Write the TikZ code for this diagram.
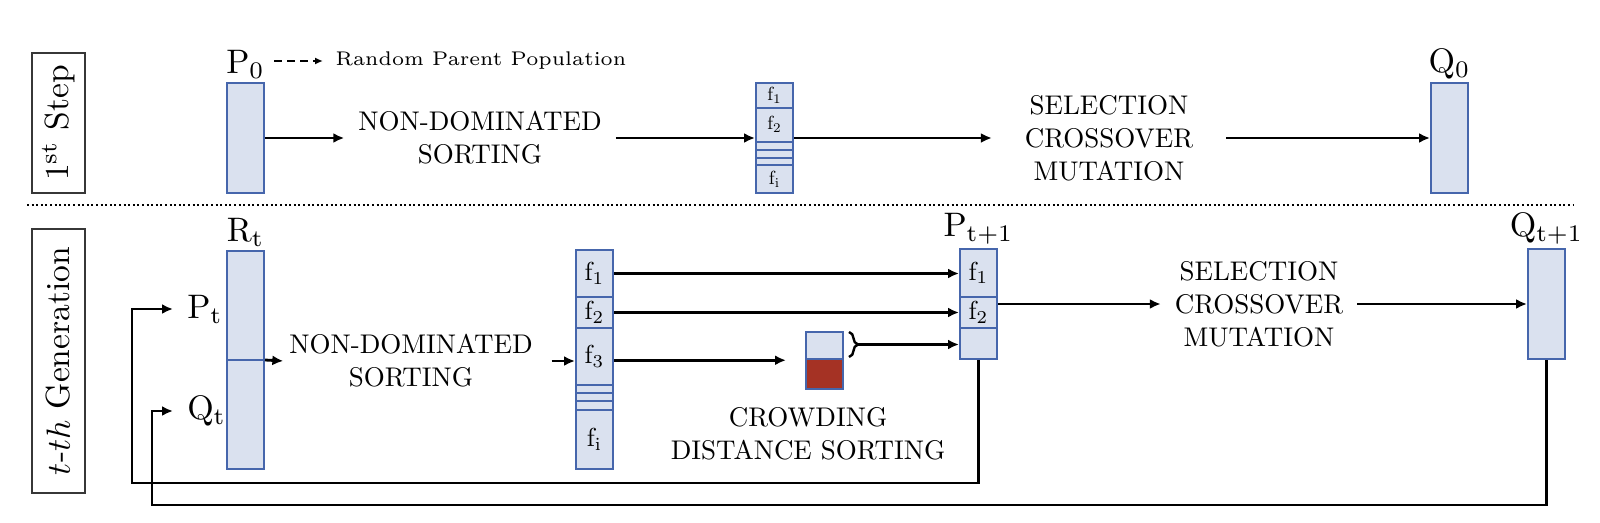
\documentclass[tikz,border=0pt]{standalone}
\usepackage{graphicx}
\usetikzlibrary{arrows.meta,decorations.pathreplacing,calc}

\definecolor{barblue}{RGB}{70,102,172}
\definecolor{barfill}{RGB}{218,225,239}
\definecolor{cdred}{RGB}{165,50,36}
\definecolor{sidegray}{RGB}{55,55,55}

\newcommand{\fcell}[2]{\scalebox{#1}{$\mathrm{f}_{\mathrm{#2}}$}}

\tikzset{
    bar/.style={draw=barblue, fill=barfill, line width=2pt, minimum width=37pt, inner sep=0pt},
    arr/.style={line width=2.8pt, -{Latex[length=11pt,width=10pt]}},
    dasharr/.style={line width=2.2pt, dash pattern=on 8pt off 5pt, -{Latex[length=8pt,width=7pt]}},
    txt/.style={scale=2.7, align=center, inner sep=5pt, font=\fontsize{10}{12.2}\selectfont},
    lbl/.style={scale=3.4, inner sep=0.5pt},
    sidebox/.style={draw=sidegray, line width=1.8pt, rotate=90, scale=3.35, inner sep=0pt, minimum height=15.8pt}
}

\begin{document}
\begin{tikzpicture}[x=1pt, y=-1pt]
        \useasboundingbox (0,0) rectangle (1600,522);

        % first step
        \node[sidebox, minimum width=41.8pt] (sidea) at (58.5,123) {1\textsuperscript{st} Step};

        \node[bar, minimum height=110pt] (pzero) at (245.5,138) {};
        \node[lbl, anchor=south] (pzerolbl) at ([yshift=1pt]pzero.north) {$\mathrm{P}_0$};
        \node[scale=3.3, anchor=west, inner sep=0pt] (rnd) at (335,61) {\fontsize{6}{7}\selectfont Random Parent Population};
        \coordinate (dashstart) at ([xshift=7pt]pzerolbl.east);
        \draw[dasharr] (dashstart |- rnd.west) -- ([xshift=-12pt]rnd.west);

        \node[txt] (ndsa) at (480,138) {NON-DOMINATED\\SORTING};
        \draw[arr] (pzero.east) -- (ndsa.west);

        \node[bar, minimum height=25pt] (ta1) at (774.5,95.5) {\fcell{1.9}{1}};
        \node[bar, minimum height=33.5pt] (ta2) at (774.5,124.75) {\fcell{1.9}{2}};
        \node[bar, minimum height=8.5pt] (tas1) at (774.5,145.75) {};
        \node[bar, minimum height=8pt] (tas2) at (774.5,154) {};
        \node[bar, minimum height=7pt] (tas3) at (774.5,161.5) {};
        \node[bar, minimum height=28pt] (tai) at (774.5,179) {\fcell{1.9}{i}};
        \draw[arr] (ndsa.east) -- (ndsa.east -| ta2.west);

        \node[txt, inner xsep=12pt] (sela) at (1109,138) {SELECTION\\CROSSOVER\\MUTATION};
        \draw[arr] (sela.west -| ta2.east) -- (sela.west);

        \node[bar, minimum height=110pt] (qzero) at (1449.5,138) {};
        \node[lbl, anchor=south] (qzerolbl) at ([yshift=1pt]qzero.north) {$\mathrm{Q}_0$};
        \draw[arr] (sela.east) -- (qzero.west);

        \draw[line width=2.2pt, dash pattern=on 2pt off 2.6pt] (27,205) -- (1573,205);

        % t-th generation
        \node[sidebox, minimum width=78.8pt] (sideb) at (58.5,361) {$t$-$th$ Generation};

        \node[bar, minimum height=218pt] (rt) at (245.5,360) {};
        \draw[barblue, line width=2pt] (rt.west) -- (rt.east);
        \node[lbl, anchor=south] (rtlbl) at ([yshift=1pt]rt.north) {$\mathrm{R}_\mathrm{t}$};
        \node[lbl, anchor=west, inner sep=4pt] (pt) at (173,309) {$\mathrm{P}_\mathrm{t}$};
        \node[lbl, anchor=west, inner sep=4pt] (qt) at (173,411) {$\mathrm{Q}_\mathrm{t}$};

        \node[txt, inner xsep=2pt] (ndsb) at (411,361) {NON-DOMINATED\\SORTING};
        \draw[arr] (rt.east) -- (ndsb.west);

        \node[bar, minimum height=47pt] (cb1) at (594.5,273.5) {\fcell{2.6}{1}};
        \node[bar, minimum height=31pt] (cb2) at (594.5,312.5) {\fcell{2.6}{2}};
        \node[bar, minimum height=57pt] (cb3) at (594.5,356.5) {\fcell{2.6}{3}};
        \node[bar, minimum height=8pt] (cbs1) at (594.5,389) {};
        \node[bar, minimum height=8pt] (cbs2) at (594.5,397) {};
        \node[bar, minimum height=9pt] (cbs3) at (594.5,405.5) {};
        \node[bar, minimum height=59pt] (cbi) at (594.5,439.5) {\fcell{2.6}{i}};
        \draw[arr] ([xshift=13pt]ndsb.east) -- (ndsb.east -| cb3.west);

        \node[bar, minimum height=48pt] (pn1) at (978.5,273) {\fcell{2.6}{1}};
        \node[bar, minimum height=31pt] (pn2) at (978.5,312.5) {\fcell{2.6}{2}};
        \node[bar, minimum height=31pt] (pn3) at (978.5,343.5) {};
        \node[lbl, anchor=south] (pnlbl) at ([yshift=1pt]pn1.north) {$\mathrm{P}_{\mathrm{t+1}}$};

        \draw[arr] (cb1.east) -- (cb1.east -| pn1.west);
        \draw[arr] (cb2.east) -- (pn2.west);

        \node[bar, minimum height=27.5pt] (cdtop) at (824.5,345.5) {};
        \node[bar, fill=cdred, minimum height=30pt] (cdbot) at (824.5,374) {};
        \coordinate (cdin) at ([xshift=-19pt]cdtop.south west);
        \draw[arr] (cb3.east |- cdin) -- (cdin);
        \node[txt] (cds) at (808,434) {CROWDING\\DISTANCE SORTING};

        \coordinate (brtop) at (849,332);
        \coordinate (brbot) at (849,357);
        \coordinate (brtip) at (858,344.5);
        \draw[line width=2.4pt, decorate, decoration={brace, amplitude=9pt, raise=0pt}] (brtop) -- (brbot);
        \draw[arr] (brtip) -- (brtip -| pn3.west);

        \node[txt] (selb) at (1259,304) {SELECTION\\CROSSOVER\\MUTATION};
        \coordinate (pnmid) at ($(pn1.north east)!0.5!(pn3.south east)$);
        \draw[arr] (pnmid) -- (selb.west);

        \node[bar, minimum height=110pt] (qn) at (1546.5,304) {};
        \node[lbl, anchor=south] (qnlbl) at ([yshift=1pt]qn.north) {$\mathrm{Q}_{\mathrm{t+1}}$};
        \draw[arr] (selb.east) -- (qn.west);

        % feedback to the next generation
        \coordinate (loopa) at (132,483);
        \coordinate (loopb) at (152,505);
        \draw[arr] (pn3.south) |- (loopa) |- (pt.west);
        \draw[arr] (qn.south) |- (loopb) |- (qt.west);
\end{tikzpicture}
\end{document}
